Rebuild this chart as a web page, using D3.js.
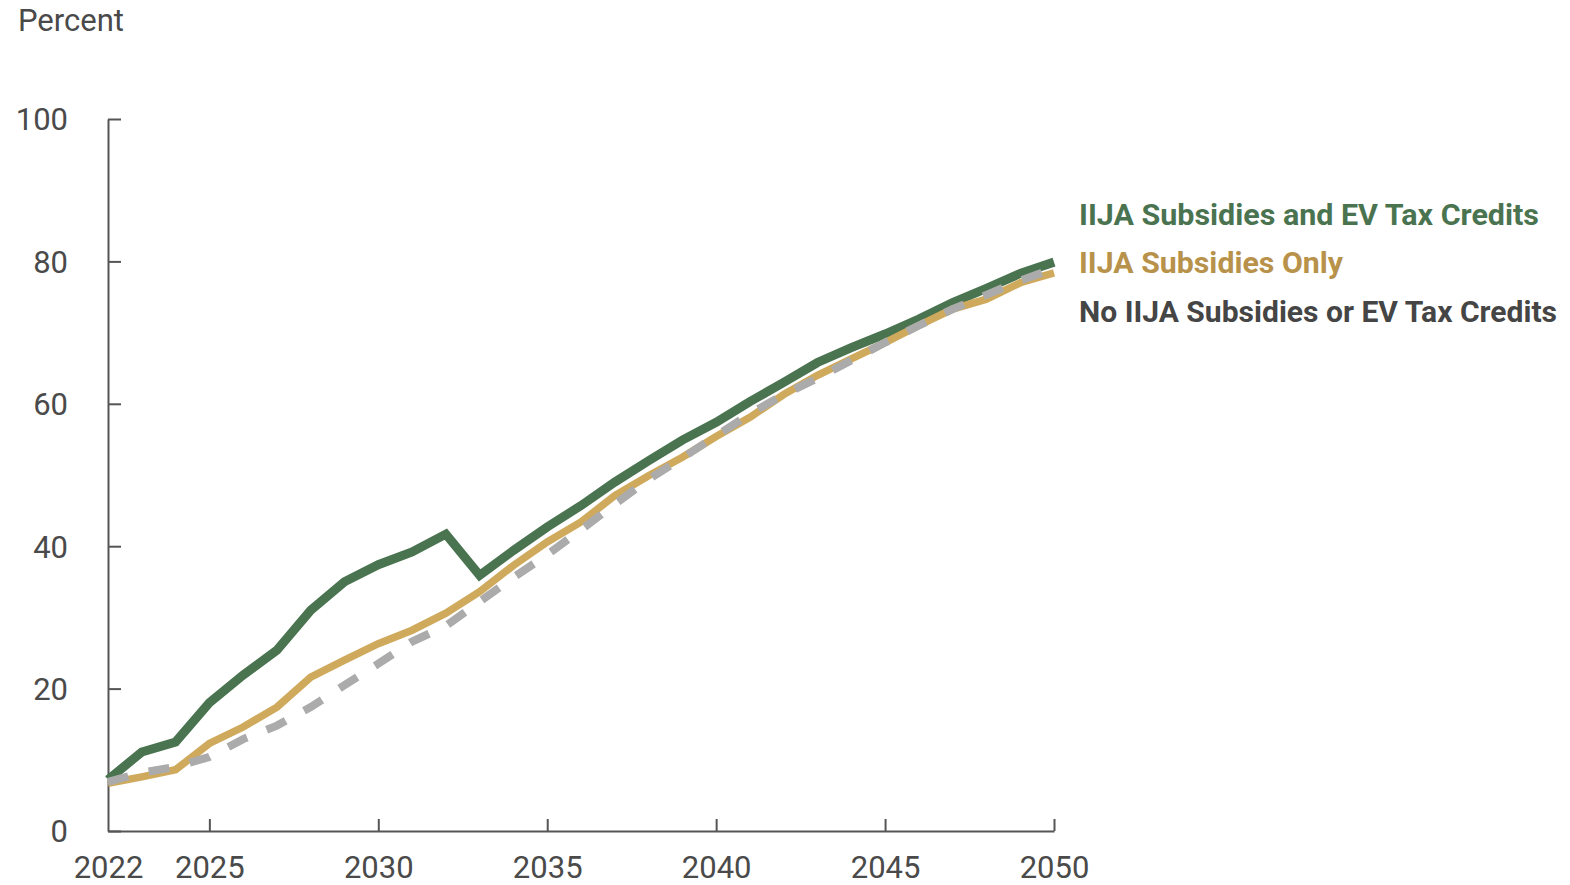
<!DOCTYPE html>
<html><head><meta charset="utf-8">
<script src="https://cdn.jsdelivr.net/npm/d3@7"></script>
<style>
html,body{margin:0;padding:0;background:#fff;}
text{font-family:Roboto,"Open Sans",sans-serif;}
</style></head>
<body>
<svg id="chart" width="1570" height="885"></svg>
<script>
const years = d3.range(2022, 2051);
const greenValues = [7.2, 11.1, 12.5, 18.0, 21.9, 25.4, 31.0, 35.0, 37.4, 39.2, 41.7, 35.9, 39.4, 42.7, 45.7, 49.0, 52.0, 54.9, 57.4, 60.3, 63.0, 65.8, 67.9, 69.8, 71.9, 74.2, 76.2, 78.3, 79.9];
const goldValues = [6.7, 7.6, 8.6, 12.3, 14.6, 17.4, 21.6, 24.0, 26.3, 28.2, 30.6, 33.6, 37.3, 40.6, 43.4, 47.1, 49.9, 52.5, 55.4, 58.1, 61.3, 64.0, 66.3, 68.6, 71.0, 73.3, 74.7, 77.0, 78.4];
const grayValues = [6.9, 8.2, 9.0, 10.4, 12.9, 14.8, 17.4, 20.5, 23.5, 26.6, 28.8, 32.2, 35.6, 38.8, 42.3, 45.9, 49.4, 52.4, 55.5, 58.6, 61.3, 63.6, 66.1, 68.6, 71.0, 73.3, 75.3, 77.3, 79.0];
const seriesNames = ["IIJA Subsidies and EV Tax Credits", "IIJA Subsidies Only", "No IIJA Subsidies or EV Tax Credits"];
const xTickValues = [2022, 2025, 2030, 2035, 2040, 2045, 2050];
const yTickValues = [0, 20, 40, 60, 80, 100];
const yTitle = "Percent";

const svg = d3.select("#chart");
const x = d3.scaleLinear().domain([2022, 2050]).range([108, 1054]);
const y = d3.scaleLinear().domain([0, 100]).range([831, 119]);
const axisColor = "#555";
const textColor = "#4a4a4a";

// y axis
const gy = svg.append("g").attr("transform", `translate(${x(2022)},0)`)
  .call(d3.axisRight(y).tickValues(yTickValues).tickSize(13).tickFormat(d3.format("d")).tickSizeOuter(0));
gy.select(".domain").attr("stroke", axisColor).attr("stroke-width", 2);
gy.selectAll(".tick line").attr("stroke", axisColor).attr("stroke-width", 2);
gy.selectAll(".tick text").attr("x", -40).attr("text-anchor", "end")
  .attr("fill", textColor).attr("font-size", 31).attr("dy", "0.35em");

// x axis
const gx = svg.append("g").attr("transform", `translate(0,${y(0)})`)
  .call(d3.axisTop(x).tickValues(xTickValues).tickSize(12).tickFormat(d3.format("d")).tickSizeOuter(0));
gx.select(".domain").attr("stroke", axisColor).attr("stroke-width", 2);
gx.selectAll(".tick line").attr("stroke", axisColor).attr("stroke-width", 2)
  .attr("display", d => d === 2022 ? "none" : null);
gx.selectAll(".tick text").attr("y", 47).attr("dy", 0)
  .attr("fill", textColor).attr("font-size", 31);

svg.append("text").attr("x", 18).attr("y", 31).attr("fill", textColor)
  .attr("font-size", 31).text(yTitle);

const line = d3.line().x((d, i) => x(years[i])).y(d => y(d));
svg.append("path").datum(greenValues).attr("d", line).attr("fill", "none")
  .attr("stroke", "#4a7350").attr("stroke-width", 9).attr("stroke-linejoin", "miter");
svg.append("path").datum(goldValues).attr("d", line).attr("fill", "none")
  .attr("stroke", "#cfaa5d").attr("stroke-width", 7.5);
svg.append("path").datum(grayValues).attr("d", line).attr("fill", "none")
  .attr("stroke", "#ababab").attr("stroke-width", 8).attr("stroke-dasharray", "21,21");

// legend
const legendColors = ["#4a7350", "#b8924a", "#454545"];
const legendY = [225, 273, 322];
const legendWidths = [460, 264, 478];
seriesNames.forEach((n, i) => {
  svg.append("text").attr("x", 1079).attr("y", legendY[i]).attr("fill", legendColors[i])
    .attr("font-size", 29).attr("font-weight", "bold")
    .attr("textLength", legendWidths[i]).attr("lengthAdjust", "spacingAndGlyphs").text(n);
});
</script>
</body></html>
